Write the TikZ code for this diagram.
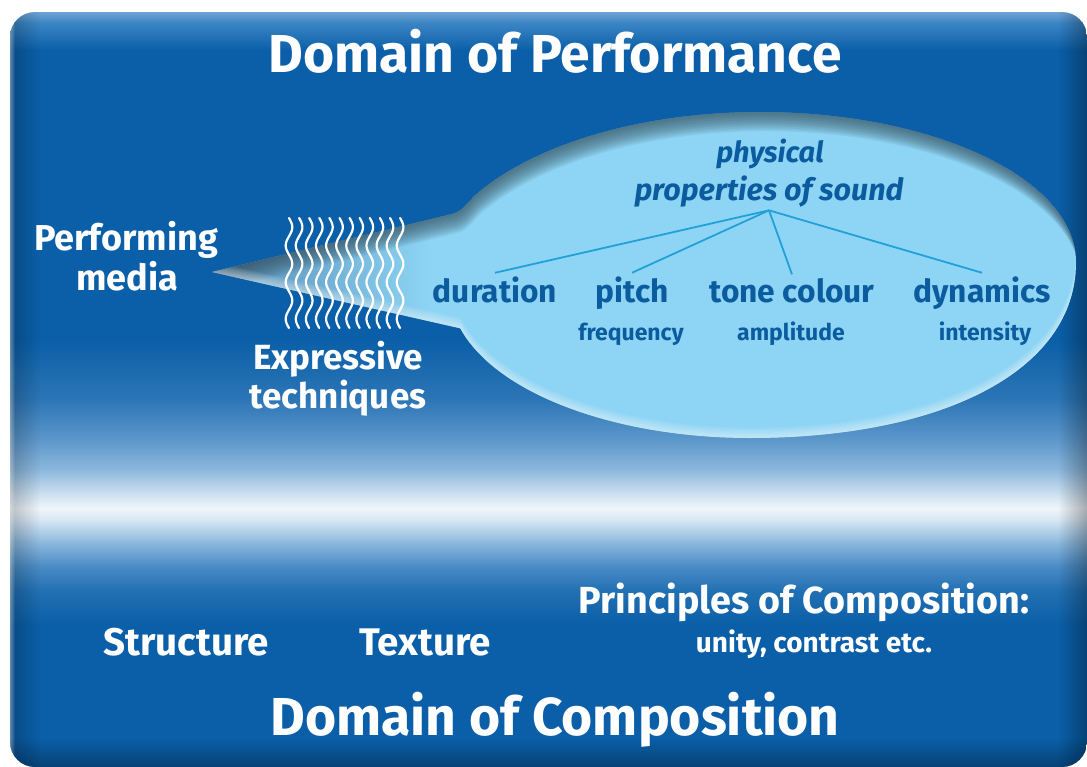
\documentclass[tikz,border=0pt]{standalone}
\usepackage{fontspec}
\setmainfont{Fira Sans}
\usetikzlibrary{fadings}
\definecolor{bgA}{HTML}{0A5FA8}
\definecolor{bgTop}{HTML}{6FA3D3}
\definecolor{bgTop2}{HTML}{3D86C5}
\definecolor{bubfill}{HTML}{8ED5F5}
\definecolor{bubshadow}{HTML}{34505F}
\definecolor{txtblue}{HTML}{0B5C9E}
\definecolor{linkblue}{HTML}{22A0D8}
\definecolor{tailshade}{HTML}{4A7EA8}
\newcommand\fsz[1]{\fontsize{#1}{#1}\selectfont}
\tikzset{
  wtxt/.style={text=white, font=\bfseries, anchor=base, inner sep=0pt},
  btxt/.style={text=txtblue, font=\bfseries, anchor=base},
  link/.style={draw=linkblue, line width=1.8pt},
  wave/.style={draw=white, line width=2.2pt, line cap=round},
}
\def\bubble{(212,272) -- (452,214) .. controls (462,211.5) and (468,203) .. (474.2,196)
  -- plot[domain=210:270, samples=40, variable=\t] ({760+330*cos(\t)},{280+168*sin(\t)})
  .. controls (934,112) and (1076,179) .. (1076,262)
  .. controls (1076,372) and (940,438) .. (750,438)
  -- plot[domain=90:165, samples=40, variable=\t] ({750+300*cos(\t)},{290+148*sin(\t)}) -- cycle}
\begin{document}
\begin{tikzpicture}[x=1pt,y=-1pt]
\useasboundingbox (0,0) rectangle (1087,766);
\fill[white] (0,0) rectangle (1087,766);
% ---------- background panel ----------
\begin{scope}
\clip[rounded corners=25pt] (10,12) rectangle (1087,767);
\shade[top color=bgTop, bottom color=bgTop2] (10,12) rectangle (1087,22.5);
\shade[top color=bgTop2, bottom color=bgA] (10,22) rectangle (1087,50.5);
\fill[bgA] (10,50) rectangle (1087,340.5);
\shade[top color=bgA, bottom color={rgb,255:red,45;green,118;blue,182}] (10,340) rectangle (1087,400.5);
\shade[top color={rgb,255:red,45;green,118;blue,182}, bottom color={rgb,255:red,93;green,152;blue,203}] (10,400) rectangle (1087,440.5);
\shade[top color={rgb,255:red,93;green,152;blue,203}, bottom color={rgb,255:red,141;green,184;blue,221}] (10,440) rectangle (1087,470.5);
\shade[top color={rgb,255:red,141;green,184;blue,221}, bottom color={rgb,255:red,208;green,226;blue,241}] (10,470) rectangle (1087,495.5);
\shade[top color={rgb,255:red,208;green,226;blue,241}, bottom color={rgb,255:red,240;green,245;blue,250}] (10,495) rectangle (1087,508.5);
\shade[top color={rgb,255:red,240;green,245;blue,250}, bottom color={rgb,255:red,214;green,230;blue,243}] (10,508) rectangle (1087,520.5);
\shade[top color={rgb,255:red,214;green,230;blue,243}, bottom color={rgb,255:red,147;green,189;blue,224}] (10,520) rectangle (1087,540.5);
\shade[top color={rgb,255:red,147;green,189;blue,224}, bottom color={rgb,255:red,77;green,141;blue,198}] (10,540) rectangle (1087,565.5);
\shade[top color={rgb,255:red,77;green,141;blue,198}, bottom color={rgb,255:red,34;green,112;blue,179}] (10,565) rectangle (1087,590.5);
\shade[top color={rgb,255:red,34;green,112;blue,179}, bottom color=bgA] (10,590) rectangle (1087,625.5);
\fill[bgA] (10,625) rectangle (1087,767);
% edge shading
\fill[black, opacity=0.22, path fading=east] (10,12) rectangle (40,767);
\fill[white, opacity=0.35, path fading=east] (10,12) rectangle (15,767);
\fill[black, opacity=0.30, path fading=west] (1058,12) rectangle (1087,767);
\fill[black, opacity=0.30, path fading=north] (10,738) rectangle (1087,767);
\end{scope}
% ---------- speech bubble ----------
\fill[bubfill] \bubble;
\begin{scope}
\clip \bubble;
\fill[tailshade, opacity=0.85, path fading=east] (212,200) rectangle (430,340);
\foreach \k in {1,...,12}{
  \fill[bubshadow, opacity=0.09, even odd rule, shift={(0.4*\k,1.6*\k)}] (0,0) rectangle (1300,900) \bubble;
}
\foreach \k in {1,...,8}{
  \fill[white, opacity=0.07, even odd rule, shift={(0,-1.3*\k)}] (0,0) rectangle (1300,900) \bubble;
}
\end{scope}
% ---------- wavy lines ----------
\foreach \i in {0,...,11}{
  \pgfmathsetmacro\xx{289+10.1*\i}
  \draw[wave] plot[domain=0:110, samples=70, smooth, variable=\t] ({\xx+3.3*sin(\t*9.809)},{218+\t});
}
% ---------- texts ----------
\node[wtxt, font=\bfseries\fsz{53.4}] (perf) at (555,72) {Domain of Performance};
\node[wtxt, font=\bfseries\fsz{36}] (media1) at (126,250) {Performing};
\node[wtxt, font=\bfseries\fsz{36}] (media2) at (127,290) {media};
\node[wtxt, font=\bfseries\fsz{35}] (expr1) at (338,369) {Expressive};
\node[wtxt, font=\bfseries\fsz{35}] (expr2) at (338,408) {techniques};
\node[btxt, font=\bfseries\itshape\fsz{29}] (phys) at (770,162) {physical};
\node[btxt, font=\bfseries\itshape\fsz{30.5}] (props) at (769,200) {properties of sound};
\node[btxt, font=\bfseries\fsz{31.7}] (dur) at (495,302) {duration};
\node[btxt, font=\bfseries\fsz{31.7}] (pitch) at (632,302) {pitch};
\node[btxt, font=\bfseries\fsz{31.7}] (tone) at (792,302) {tone colour};
\node[btxt, font=\bfseries\fsz{31.7}] (dyn) at (982,302) {dynamics};
\node[btxt, font=\bfseries\fsz{23}] (freq) at (631,340) {frequency};
\node[btxt, font=\bfseries\fsz{23}] (ampl) at (791,340) {amplitude};
\node[btxt, font=\bfseries\fsz{23}] (inten) at (985,340) {intensity};
\draw[link] (props.south) -- (dur.north);
\draw[link] (props.south) -- (pitch.north);
\draw[link] (props.south) -- (tone.north);
\draw[link] (props.south) -- (dyn.north);
\node[wtxt, font=\bfseries\fsz{37.7}] (princ) at (804,613) {Principles of Composition:};
\node[wtxt, font=\bfseries\fsz{28}] (unity) at (814,652) {unity, contrast etc.};
\node[wtxt, font=\bfseries\fsz{38.5}] (struct) at (186,655) {Structure};
\node[wtxt, font=\bfseries\fsz{38.5}] (texture) at (425,655) {Texture};
\node[wtxt, font=\bfseries\fsz{53.4}] (comp) at (555,735) {Domain of Composition};
\end{tikzpicture}
\end{document}
